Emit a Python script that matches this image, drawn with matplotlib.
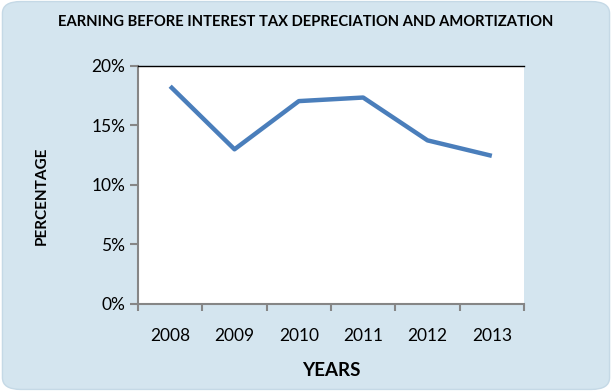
import matplotlib
matplotlib.use("Agg")
import matplotlib.pyplot as plt
from matplotlib.patches import FancyBboxPatch
from matplotlib.ticker import PercentFormatter

years = ["2008", "2009", "2010", "2011", "2012", "2013"]
ebitda_pct = [18.3, 13.0, 17.05, 17.35, 13.75, 12.45]

plt.rcParams['font.family'] = ['Lato', 'DejaVu Sans']

fig = plt.figure(figsize=(6.12, 3.91), dpi=100)
fig.patch.set_facecolor('white')

# rounded chart background
bg = FancyBboxPatch((0.004, 0.004), 0.992, 0.992, boxstyle="round,pad=0,rounding_size=0.03",
                    transform=fig.transFigure, facecolor='#d4e5ef', edgecolor='#c5d9e6',
                    linewidth=1, zorder=-10)
fig.patches.append(bg)

ax = fig.add_axes([138 / 612, 1 - 304 / 391, 386 / 612, 238 / 391])
ax.set_facecolor('white')

x = list(range(len(years)))
ax.plot(x, ebitda_pct, color='#4a7ebb', linewidth=3.2, solid_capstyle='butt')

ax.set_xlim(-0.5, len(years) - 0.5)
ax.set_ylim(0, 20)
ax.set_yticks([0, 5, 10, 15, 20])
ax.yaxis.set_major_formatter(PercentFormatter(decimals=0))
ax.set_xticks(x)
ax.set_xticklabels(years)
ax.set_xticks([i - 0.5 for i in range(len(years) + 1)], minor=True)
ax.tick_params(axis='x', which='major', length=0, pad=17, labelsize=12.5)
ax.tick_params(axis='x', which='minor', length=5, width=1.5, color='#868686', direction='out')
ax.tick_params(axis='y', length=6, width=1.5, color='#868686', labelsize=12.5, pad=3)

for side in ['left', 'bottom']:
    ax.spines[side].set_color('#868686')
    ax.spines[side].set_linewidth(1.5)
ax.spines['top'].set_color('black')
ax.spines['top'].set_linewidth(1)
ax.spines['right'].set_visible(False)

fig.text(0.5, 1 - 22 / 391, "EARNING BEFORE INTEREST TAX DEPRECIATION AND AMORTIZATION",
         ha='center', va='center', fontsize=10.6, fontweight='bold')
fig.text(331 / 612, 1 - 370 / 391, "YEARS", ha='center', va='center',
         fontsize=13.5, fontweight='bold')
fig.text(42 / 612, 1 - 196 / 391, "PERCENTAGE", ha='center', va='center',
         rotation=90, fontsize=11, fontweight='bold')

fig.savefig("out.png", dpi=100)
